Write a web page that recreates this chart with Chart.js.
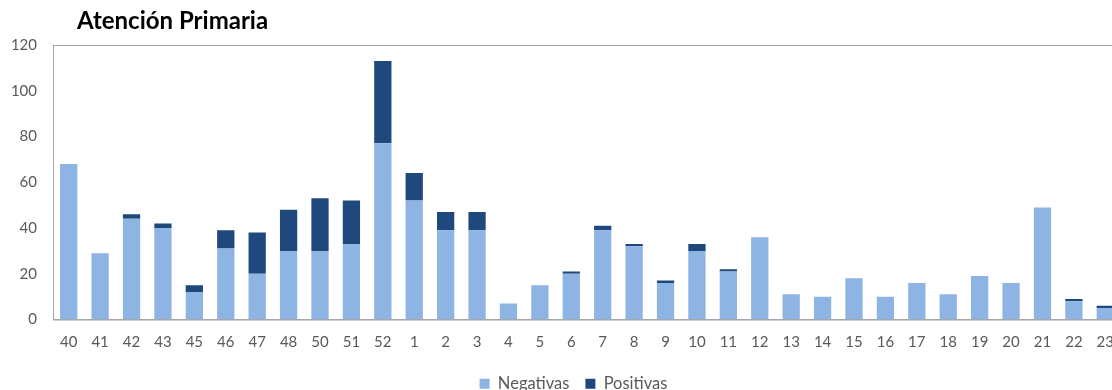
<!DOCTYPE html>
<html>
<head>
<meta charset="utf-8">
<script src="https://cdn.jsdelivr.net/npm/chart.js@4"></script>
<style>
    html, body { margin: 0; padding: 0; background: #fff; overflow: hidden; }
    .wrap { position: relative; width: 1146px; height: 402px; }
    .titulo {
        position: absolute; left: 77px; top: 6px; margin: 0;
        font: bold 24px/28px Lato, "Open Sans", sans-serif; color: #000;
    }
</style>
</head>
<body>
<div class="wrap">
    <h1 class="titulo">Atención Primaria</h1>
    <canvas id="atencion-chart" width="1146" height="402"></canvas>
</div>
<script>
// semanas epidemiologicas
const semanas = ['40', '41', '42', '43', '45', '46', '47', '48', '50', '51', '52',
    '1', '2', '3', '4', '5', '6', '7', '8', '9', '10', '11', '12',
    '13', '14', '15', '16', '17', '18', '19', '20', '21', '22', '23']
const negativas = [68, 29, 44, 40, 12, 31, 20, 30, 30, 33, 77,
    52, 39, 39, 7, 15, 20, 39, 32, 16, 30, 21, 36,
    11, 10, 18, 10, 16, 11, 19, 16, 49, 8, 5]
const positivas = [0, 0, 2, 2, 3, 8, 18, 18, 23, 19, 36,
    12, 8, 8, 0, 0, 1, 2, 1, 1, 3, 1, 0,
    0, 0, 0, 0, 0, 0, 0, 0, 0, 1, 1]
const yTicks = [0, 20, 40, 60, 80, 100, 120]

const fuente = 'Lato, "Open Sans", sans-serif'

// marco del area de trazado (estilo excel)
const marco = {
    id: 'marco',
    afterLayout(chart) {
        // la leyenda va centrada en el grafico entero, no en el area util
        if (chart.legend) chart.legend.left += 26
    },
    afterDraw(chart) {
        const { ctx, chartArea } = chart
        ctx.save()
        ctx.strokeStyle = '#a6a6a6'
        ctx.lineWidth = 1
        ctx.strokeRect(chartArea.left + 0.5, chartArea.top + 0.5,
            chartArea.right - chartArea.left, chartArea.bottom - chartArea.top)
        ctx.restore()
    }
}

let ctx = document.getElementById('atencion-chart')
new Chart(ctx, {
    type: 'bar',
    plugins: [marco],
    data: {
        labels: semanas,
        datasets: [
            {
                label: 'Negativas',
                data: negativas,
                backgroundColor: '#8eb4e3',
                borderWidth: 0
            },
            {
                label: 'Positivas',
                data: positivas,
                backgroundColor: '#1f497d',
                borderWidth: 0
            }
        ]
    },
    options: {
        responsive: false,
        animation: false,
        layout: {
            padding: { top: 45, right: 25, left: 0, bottom: 0 }
        },
        datasets: {
            bar: { barPercentage: 0.55, categoryPercentage: 1 }
        },
        scales: {
            x: {
                stacked: true,
                grid: { display: false, drawTicks: false },
                border: { color: '#a6a6a6' },
                ticks: {
                    color: '#595959',
                    font: { family: fuente, size: 15 },
                    padding: 14,
                    maxRotation: 0,
                    autoSkip: false
                },
                afterFit(scale) { scale.height = 40 }
            },
            y: {
                stacked: true,
                min: 0,
                max: 120,
                grid: { display: false, drawTicks: false },
                border: { color: '#a6a6a6' },
                afterBuildTicks(scale) {
                    scale.ticks = yTicks.map((v) => ({ value: v }))
                },
                ticks: {
                    color: '#595959',
                    font: { family: fuente, size: 15 },
                    padding: 16
                },
                afterFit(scale) { scale.width = 53 }
            }
        },
        plugins: {
            tooltip: { enabled: false },
            legend: {
                position: 'bottom',
                labels: {
                    color: '#595959',
                    font: { family: fuente, size: 16.5 },
                    boxWidth: 10,
                    boxHeight: 10,
                    padding: 16
                }
            }
        }
    }
})
</script>
</body>
</html>
